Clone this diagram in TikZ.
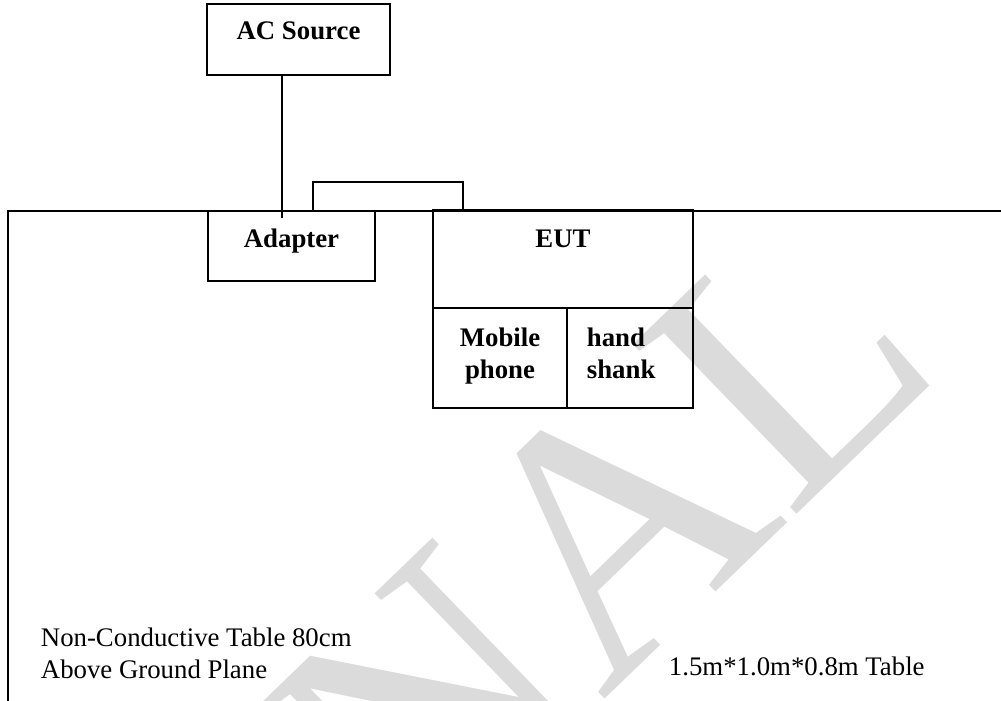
\documentclass[tikz,border=0pt]{standalone}
\usepackage{fontspec}
\setmainfont{Liberation Serif}
\usetikzlibrary{positioning}

\begin{document}
\begin{tikzpicture}[x=0.5pt, y=-0.5pt, line width=0.9pt,
    box/.style={draw, rectangle, inner sep=0pt, outer sep=0pt},
    tag/.style={inner sep=0pt, font=\bfseries\fontsize{13.4pt}{16pt}\selectfont},
    note/.style={inner sep=0pt, align=left, font=\fontsize{13.4pt}{16pt}\selectfont},
    stamp/.style={inner sep=0pt, text=black!14, font=\fontsize{180pt}{190pt}\selectfont}]
  \clip (0,0) rectangle (1001,701);
  \node[stamp, rotate=44] (wm) at (241,888) {ORIGINAL};

  % table edge
  \draw (8,720) -- (8,211) -- (1020,211);

  \node[box, minimum width=91.5pt, minimum height=35.5pt] (ac) at (298.5,39.5) {};
  \node[tag, anchor=base] (actext) at ([yshift=-18pt]ac.north) {AC Source};

  \node[box, minimum width=83.5pt, minimum height=35pt] (adapter) at (291.5,246) {};
  \node[tag, anchor=base] (adtext) at ([yshift=-18pt]adapter.north) {Adapter};

  \node[box, minimum width=130pt, minimum height=49pt] (eut) at (563,259) {};
  \node[tag, anchor=base] (euttext) at ([yshift=-18.5pt]eut.north) {EUT};
  \node[box, minimum width=67pt, minimum height=50pt, below right=0pt of eut.south west] (mob) {};
  \node[box, minimum width=63pt, minimum height=50pt, right=0pt of mob] (hs) {};
  \node[tag, align=center, anchor=north] (mobtext) at ([yshift=-9.5pt]mob.north) {Mobile\\phone};
  \node[tag, align=left, anchor=north west] (hstext) at ([xshift=9.5pt, yshift=-9.5pt]hs.north west) {hand\\shank};

  % mains lead and charger cable
  \coordinate (plug) at ([xshift=-4.75pt, yshift=-3.5pt]adapter.north);
  \draw (plug |- ac.south) -- (plug);
  \draw ([xshift=10.75pt]adapter.north) |- ([xshift=-50pt, yshift=14pt]eut.north) -- ([xshift=-50pt]eut.north);

  \node[note, anchor=north west] (tabnote) at (40,627) {Non-Conductive Table 80cm\\Above Ground Plane};
  \node[note, anchor=base west] (tabsize) at (668,675) {1.5m*1.0m*0.8m Table};
\end{tikzpicture}
\end{document}
